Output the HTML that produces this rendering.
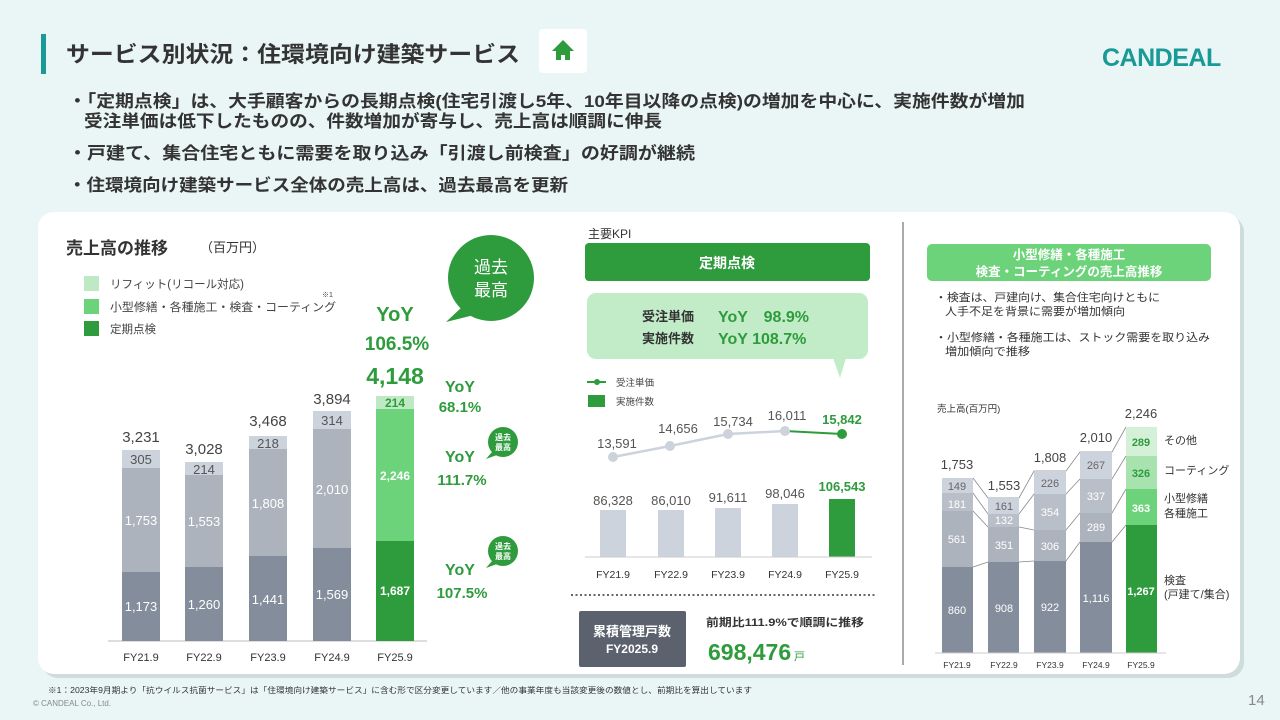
<!DOCTYPE html>
<html><head><meta charset="utf-8"><style>
html,body{margin:0;padding:0;width:1280px;height:720px;overflow:hidden;background:#eaf6f6}
svg{display:block}
text{font-family:"Liberation Sans","Noto Sans CJK JP",sans-serif}
</style></head><body>
<svg width="1280" height="720" viewBox="0 0 1280 720" xmlns="http://www.w3.org/2000/svg">
<rect width="1280" height="720" fill="#eaf6f6"/>
<rect x="41" y="34" width="5" height="40" fill="#1a9a96"/>
<text x="66" y="62" font-size="22" font-weight="bold" fill="#333" textLength="454" lengthAdjust="spacingAndGlyphs">サービス別状況：住環境向け建築サービス</text>
<rect x="539" y="29" width="48" height="44" rx="4" fill="#fff"/>
<path d="M563 40 L552 51 L556 51 L556 60 L561 60 L561 55 L565 55 L565 60 L570 60 L570 51 L574 51 Z" fill="#2e9b3c"/>
<text x="1102" y="66" font-size="25" font-weight="bold" fill="#1a9a96" letter-spacing="-0.5">CANDEAL</text>
<g font-size="17" font-weight="bold" fill="#333">
<text x="68" y="107" textLength="957" lengthAdjust="spacingAndGlyphs">・「定期点検」は、大手顧客からの長期点検(住宅引渡し5年、10年目以降の点検)の増加を中心に、実施件数が増加</text>
<text x="84" y="127" textLength="578" lengthAdjust="spacingAndGlyphs">受注単価は低下したものの、件数増加が寄与し、売上高は順調に伸長</text>
<text x="68" y="159" textLength="627" lengthAdjust="spacingAndGlyphs">・戸建て、集合住宅ともに需要を取り込み「引渡し前検査」の好調が継続</text>
<text x="68" y="191" textLength="500" lengthAdjust="spacingAndGlyphs">・住環境向け建築サービス全体の売上高は、過去最高を更新</text>
</g>
<rect x="42" y="216" width="1202" height="462" rx="16" fill="#cfdcdc"/>
<rect x="38" y="212" width="1202" height="462" rx="16" fill="#fff"/>

<text x="66" y="254" font-size="17" font-weight="bold" fill="#333">売上高の推移</text>
<text x="200" y="252" font-size="13" fill="#333">（百万円）</text>
<rect x="84" y="276" width="15" height="15" fill="#bfe9c4"/>
<text x="110" y="288" font-size="11.5" fill="#444">リフィット(リコール対応)</text>
<rect x="84" y="299" width="15" height="15" fill="#6dd37a"/>
<text x="110" y="311" font-size="11.5" fill="#444" textLength="226" lengthAdjust="spacingAndGlyphs">小型修繕・各種施工・検査・コーティング</text>
<text x="322" y="297" font-size="7" fill="#444">※1</text>
<rect x="84" y="321" width="15" height="15" fill="#2e9b3c"/>
<text x="110" y="333" font-size="11.5" fill="#444">定期点検</text>
<line x1="108" y1="641" x2="427" y2="641" stroke="#bbb" stroke-width="1"/>
<g font-size="13" text-anchor="middle">
<rect x="122" y="572" width="38" height="69" fill="#838d9b"/>
<rect x="122" y="468" width="38" height="104" fill="#adb3bd"/>
<rect x="122" y="450" width="38" height="18" fill="#cdd3dc"/>
<text x="141" y="611" fill="#fff">1,173</text><text x="141" y="525" fill="#fff">1,753</text><text x="141" y="464" fill="#555">305</text>
<text x="141" y="442" fill="#444" font-size="15">3,231</text>
<rect x="185" y="567" width="38" height="74" fill="#838d9b"/>
<rect x="185" y="475" width="38" height="92" fill="#adb3bd"/>
<rect x="185" y="462" width="38" height="13" fill="#cdd3dc"/>
<text x="204" y="609" fill="#fff">1,260</text><text x="204" y="526" fill="#fff">1,553</text><text x="204" y="474" fill="#555">214</text>
<text x="204" y="454" fill="#444" font-size="15">3,028</text>
<rect x="249" y="556" width="38" height="85" fill="#838d9b"/>
<rect x="249" y="449" width="38" height="107" fill="#adb3bd"/>
<rect x="249" y="436" width="38" height="13" fill="#cdd3dc"/>
<text x="268" y="604" fill="#fff">1,441</text><text x="268" y="508" fill="#fff">1,808</text><text x="268" y="448" fill="#555">218</text>
<text x="268" y="426" fill="#444" font-size="15">3,468</text>
<rect x="313" y="548" width="38" height="93" fill="#838d9b"/>
<rect x="313" y="429" width="38" height="119" fill="#adb3bd"/>
<rect x="313" y="411" width="38" height="18" fill="#cdd3dc"/>
<text x="332" y="599" fill="#fff">1,569</text><text x="332" y="494" fill="#fff">2,010</text><text x="332" y="425" fill="#555">314</text>
<text x="332" y="404" fill="#444" font-size="15">3,894</text>
<rect x="376" y="541" width="38" height="100" fill="#2e9b3c"/>
<rect x="376" y="409" width="38" height="132" fill="#6dd37a"/>
<rect x="376" y="396" width="38" height="13" fill="#bfe9c4"/>
<text x="395" y="595" fill="#fff" font-weight="bold" font-size="12">1,687</text>
<text x="395" y="480" fill="#fff" font-weight="bold" font-size="12">2,246</text>
<text x="395" y="407" fill="#2e9b3c" font-weight="bold" font-size="12">214</text>
<text x="395" y="384" fill="#2e9b3c" font-weight="bold" font-size="23">4,148</text>
<text x="395" y="321" fill="#2e9b3c" font-weight="bold" font-size="20">YoY</text>
<text x="397" y="350" fill="#2e9b3c" font-weight="bold" font-size="19">106.5%</text>
<g font-size="11" fill="#333"><text x="141" y="661">FY21.9</text><text x="204" y="661">FY22.9</text><text x="268" y="661">FY23.9</text><text x="332" y="661">FY24.9</text><text x="395" y="661">FY25.9</text></g>
<g fill="#2e9b3c" font-weight="bold">
<text x="460" y="392" font-size="16">YoY</text><text x="460" y="412" font-size="15">68.1%</text>
<text x="460" y="462" font-size="16">YoY</text><text x="462" y="485" font-size="15">111.7%</text>
<text x="460" y="575" font-size="16">YoY</text><text x="462" y="598" font-size="15">107.5%</text>
</g>
</g>
<circle cx="491" cy="278" r="43" fill="#2e9b3c"/>
<path d="M462 307 L446 322 L474 315 Z" fill="#2e9b3c"/>
<text x="491" y="273" font-size="17" fill="#fff" text-anchor="middle">過去</text>
<text x="491" y="296" font-size="17" fill="#fff" text-anchor="middle">最高</text>
<circle cx="503" cy="442" r="15" fill="#2e9b3c"/><path d="M492 452 L486 459 L497 455Z" fill="#2e9b3c"/>
<text x="503" y="440" font-size="8" fill="#fff" text-anchor="middle" font-weight="bold">過去</text>
<text x="503" y="450" font-size="8" fill="#fff" text-anchor="middle" font-weight="bold">最高</text>
<circle cx="503" cy="551" r="15" fill="#2e9b3c"/><path d="M492 561 L486 568 L497 564Z" fill="#2e9b3c"/>
<text x="503" y="549" font-size="8" fill="#fff" text-anchor="middle" font-weight="bold">過去</text>
<text x="503" y="559" font-size="8" fill="#fff" text-anchor="middle" font-weight="bold">最高</text>

<text x="588" y="238" font-size="12" fill="#333">主要KPI</text>
<rect x="585" y="243" width="285" height="38" rx="4" fill="#2e9b3c"/>
<text x="727" y="268" font-size="14" font-weight="bold" fill="#fff" text-anchor="middle">定期点検</text>
<rect x="587" y="293" width="281" height="66" rx="9" fill="#c2ecc8"/>
<path d="M833 358 L840 378 L846 358Z" fill="#c2ecc8"/>
<text x="642" y="321" font-size="13" font-weight="bold" fill="#333">受注単価</text>
<text x="642" y="343" font-size="13" font-weight="bold" fill="#333">実施件数</text>
<text x="718" y="322" font-size="16" font-weight="bold" fill="#2e9b3c">YoY　98.9%</text>
<text x="718" y="344" font-size="16" font-weight="bold" fill="#2e9b3c">YoY 108.7%</text>
<line x1="587" y1="382" x2="606" y2="382" stroke="#2e9b3c" stroke-width="2"/><circle cx="597" cy="382" r="3" fill="#2e9b3c"/>
<text x="616" y="386" font-size="9.5" fill="#444">受注単価</text>
<rect x="588" y="395" width="17" height="12" fill="#2e9b3c"/>
<text x="616" y="405" font-size="9.5" fill="#444">実施件数</text>
<polyline points="613,457 670,446 728,434 785,431" fill="none" stroke="#cdd3dc" stroke-width="2.5"/>
<line x1="785" y1="431" x2="842" y2="434" stroke="#2e9b3c" stroke-width="2"/>
<g fill="#cdd3dc"><circle cx="613" cy="457" r="5"/><circle cx="670" cy="446" r="5"/><circle cx="728" cy="434" r="5"/><circle cx="785" cy="431" r="5"/></g>
<circle cx="842" cy="434" r="5" fill="#2e9b3c"/>
<g font-size="13" text-anchor="middle" fill="#555">
<text x="617" y="448">13,591</text><text x="678" y="433">14,656</text><text x="733" y="426">15,734</text><text x="787" y="420">16,011</text>
<text x="842" y="424" fill="#2e9b3c" font-weight="bold">15,842</text>
<text x="613" y="505">86,328</text><text x="671" y="505">86,010</text><text x="728" y="502">91,611</text><text x="785" y="498">98,046</text>
<text x="842" y="491" fill="#2e9b3c" font-weight="bold">106,543</text>
</g>
<rect x="600" y="510" width="26" height="47" fill="#cdd3dc"/>
<rect x="658" y="510" width="26" height="47" fill="#cdd3dc"/>
<rect x="715" y="508" width="26" height="49" fill="#cdd3dc"/>
<rect x="772" y="504" width="26" height="53" fill="#cdd3dc"/>
<rect x="829" y="499" width="26" height="58" fill="#2e9b3c"/>
<line x1="585" y1="557" x2="872" y2="557" stroke="#ccc"/>
<g font-size="10.5" fill="#333" text-anchor="middle"><text x="613" y="578">FY21.9</text><text x="671" y="578">FY22.9</text><text x="728" y="578">FY23.9</text><text x="785" y="578">FY24.9</text><text x="842" y="578">FY25.9</text></g>
<line x1="571" y1="595" x2="875" y2="595" stroke="#666" stroke-width="2" stroke-dasharray="2,2.5"/>
<rect x="579" y="611" width="107" height="56" rx="2" fill="#5b626e"/>
<text x="632" y="636" font-size="13" font-weight="bold" fill="#fff" text-anchor="middle">累積管理戸数</text>
<text x="632" y="653" font-size="12" font-weight="bold" fill="#fff" text-anchor="middle">FY2025.9</text>
<text x="785" y="626" font-size="11" font-weight="bold" fill="#333" text-anchor="middle" textLength="158" lengthAdjust="spacingAndGlyphs">前期比111.9%で順調に推移</text>
<text x="708" y="660" font-size="23" font-weight="bold" fill="#2e9b3c">698,476</text>
<text x="794" y="660" font-size="11" fill="#2e9b3c">戸</text>

<line x1="903" y1="222" x2="903" y2="665" stroke="#555" stroke-width="1"/>

<rect x="927" y="244" width="284" height="37" rx="5" fill="#6dd37a"/>
<text x="1069" y="259" font-size="12.5" font-weight="bold" fill="#fff" text-anchor="middle">小型修繕・各種施工</text>
<text x="1069" y="276" font-size="12.5" font-weight="bold" fill="#fff" text-anchor="middle">検査・コーティングの売上高推移</text>
<g font-size="11" fill="#333">
<text x="935" y="301" textLength="225" lengthAdjust="spacingAndGlyphs">・検査は、戸建向け、集合住宅向けともに</text>
<text x="945" y="315" textLength="180" lengthAdjust="spacingAndGlyphs">人手不足を背景に需要が増加傾向</text>
<text x="935" y="341" textLength="275" lengthAdjust="spacingAndGlyphs">・小型修繕・各種施工は、ストック需要を取り込み</text>
<text x="945" y="355" textLength="85" lengthAdjust="spacingAndGlyphs">増加傾向で推移</text>
<text x="937" y="412" font-size="9.5">売上高(百万円)</text>
</g>
<g stroke="#888" stroke-width="0.8" fill="none">
<polyline points="973,567 988,562 1019,562 1034,561 1066,561 1080,542 1112,542 1126,525"/>
<polyline points="973,511 988,527 1019,527 1034,530 1066,530 1080,513 1112,513 1126,489"/>
<polyline points="973,493 988,514 1019,514 1034,494 1066,494 1080,479 1112,479 1126,456"/>
<polyline points="973,478 988,498 1019,498 1034,471 1066,471 1080,452 1112,452 1126,427"/>
</g>
<g font-size="11" text-anchor="middle">
<rect x="942" y="567" width="31" height="86" fill="#838d9b"/><rect x="942" y="511" width="31" height="56" fill="#adb3bd"/><rect x="942" y="493" width="31" height="18" fill="#b9bfc8"/><rect x="942" y="478" width="31" height="15" fill="#cdd3dc"/>
<text x="957" y="614" fill="#fff">860</text><text x="957" y="543" fill="#fff">561</text><text x="957" y="508" fill="#fff">181</text><text x="957" y="490" fill="#666">149</text><text x="957" y="469" fill="#444" font-size="13">1,753</text>
<rect x="988" y="562" width="31" height="91" fill="#838d9b"/><rect x="988" y="527" width="31" height="35" fill="#adb3bd"/><rect x="988" y="514" width="31" height="13" fill="#b9bfc8"/><rect x="988" y="498" width="31" height="16" fill="#cdd3dc"/>
<text x="1004" y="612" fill="#fff">908</text><text x="1004" y="549" fill="#fff">351</text><text x="1004" y="524" fill="#fff">132</text><text x="1004" y="510" fill="#666">161</text><text x="1004" y="490" fill="#444" font-size="13">1,553</text>
<rect x="1034" y="561" width="32" height="92" fill="#838d9b"/><rect x="1034" y="530" width="32" height="31" fill="#adb3bd"/><rect x="1034" y="494" width="32" height="36" fill="#b9bfc8"/><rect x="1034" y="471" width="32" height="23" fill="#cdd3dc"/>
<text x="1050" y="611" fill="#fff">922</text><text x="1050" y="550" fill="#fff">306</text><text x="1050" y="516" fill="#fff">354</text><text x="1050" y="487" fill="#666">226</text><text x="1050" y="462" fill="#444" font-size="13">1,808</text>
<rect x="1080" y="542" width="32" height="111" fill="#838d9b"/><rect x="1080" y="513" width="32" height="29" fill="#adb3bd"/><rect x="1080" y="479" width="32" height="34" fill="#b9bfc8"/><rect x="1080" y="452" width="32" height="27" fill="#cdd3dc"/>
<text x="1096" y="602" fill="#fff">1,116</text><text x="1096" y="531" fill="#fff">289</text><text x="1096" y="500" fill="#fff">337</text><text x="1096" y="469" fill="#666">267</text><text x="1096" y="442" fill="#444" font-size="13">2,010</text>
<rect x="1126" y="525" width="31" height="128" fill="#2e9b3c"/><rect x="1126" y="489" width="31" height="36" fill="#6dd37a"/><rect x="1126" y="456" width="31" height="33" fill="#a8e3af"/><rect x="1126" y="427" width="31" height="29" fill="#d4f1d7"/>
<text x="1141" y="595" fill="#fff" font-weight="bold">1,267</text><text x="1141" y="512" fill="#fff" font-weight="bold">363</text><text x="1141" y="477" fill="#2e9b3c" font-weight="bold">326</text><text x="1141" y="446" fill="#2e9b3c" font-weight="bold">289</text>
<text x="1141" y="418" fill="#444" font-size="13">2,246</text>
</g>
<line x1="935" y1="653" x2="1166" y2="653" stroke="#ccc"/>
<g font-size="8.5" fill="#333" text-anchor="middle"><text x="957" y="668">FY21.9</text><text x="1004" y="668">FY22.9</text><text x="1050" y="668">FY23.9</text><text x="1096" y="668">FY24.9</text><text x="1141" y="668">FY25.9</text></g>
<g font-size="11" fill="#333">
<text x="1164" y="444">その他</text>
<text x="1164" y="474">コーティング</text>
<text x="1164" y="502">小型修繕</text><text x="1164" y="517">各種施工</text>
<text x="1164" y="584">検査</text><text x="1164" y="598">(戸建て/集合)</text>
</g>

<text x="48" y="693" font-size="8" fill="#333" textLength="704" lengthAdjust="spacingAndGlyphs">※1：2023年9月期より「抗ウイルス抗菌サービス」は「住環境向け建築サービス」に含む形で区分変更しています／他の事業年度も当該変更後の数値とし、前期比を算出しています</text>
<text x="33" y="706" font-size="8" fill="#888">© CANDEAL Co., Ltd.</text>
<text x="1248" y="705" font-size="15" fill="#888">14</text>
</svg>
</body></html>
